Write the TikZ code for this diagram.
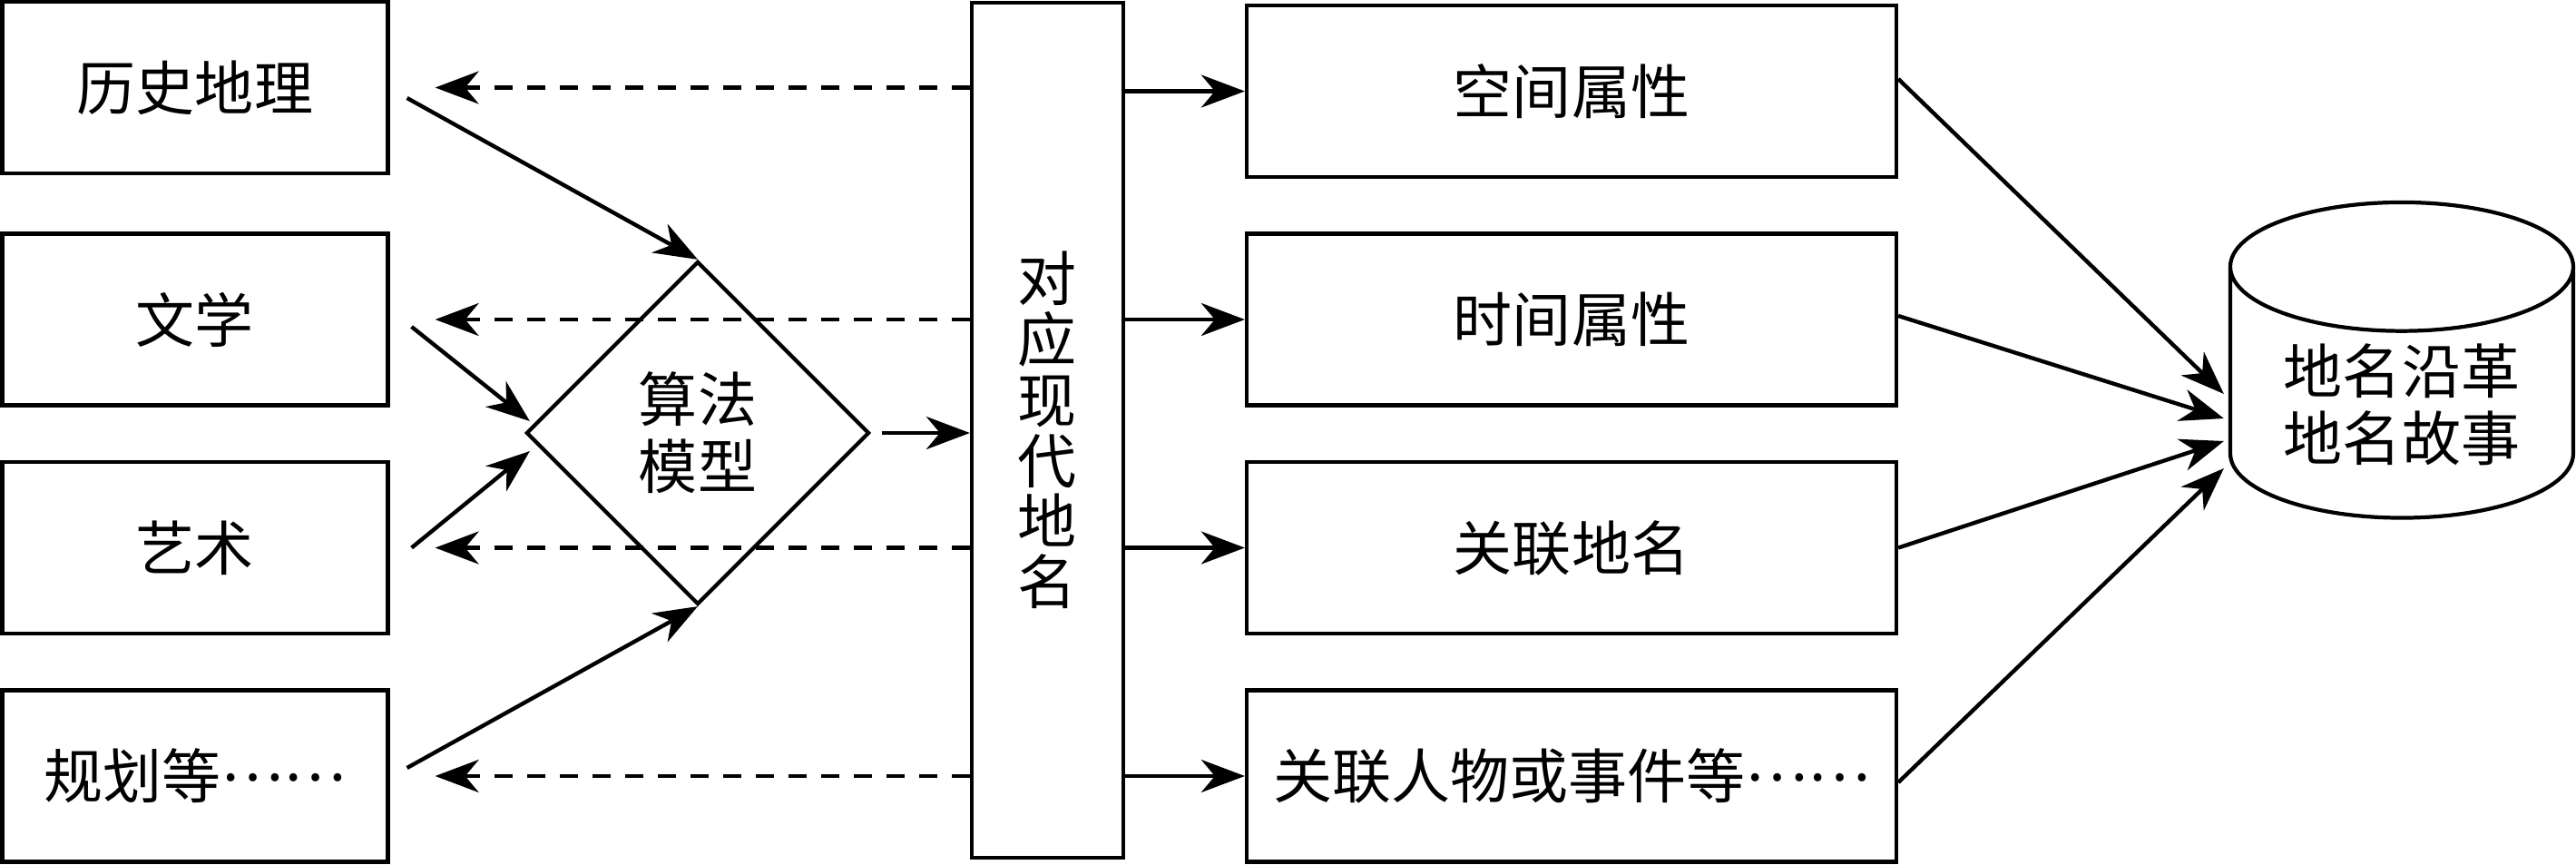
\documentclass[tikz,border=0pt]{standalone}
\usepackage{fontspec}
\setmainfont{Noto Sans CJK SC}
\usetikzlibrary{shapes.geometric,arrows.meta}

\tikzset{
  box/.style={draw=black,line width=1.2pt,rectangle,inner sep=0pt},
  arr/.style={-{Stealth[length=4.8mm,width=3.6mm,inset=1.5mm]},line width=1.25pt},
  back/.style={arr,dash pattern=on 2mm off 1.6mm},
}
\newcommand{\drawsource}[3]{% Parameters: name, depth, label
  \node[box,minimum width=4.25cm,minimum height=1.89cm] (#1) at (2.15,-#2) {#3};
}
\newcommand{\drawattr}[3]{% Parameters: name, depth, label
  \node[box,minimum width=7.16cm,minimum height=1.89cm] (#1) at (17.32,-#2) {#3};
}
\newcommand{\middots}{\raisebox{0.3em}{……}}

\begin{document}
\begin{tikzpicture}[font=\fontsize{18.5}{21}\selectfont]
  \useasboundingbox (0,0) rectangle (28.39,-9.52);
  \drawsource{hist}{0.965}{历史地理}
  \drawsource{lit}{3.52}{文学}
  \drawsource{art}{6.035}{艺术}
  \drawsource{plan}{8.55}{规划等\middots}
  \node[diamond,draw,line width=1.2pt,minimum width=3.78cm,minimum height=3.78cm,
    inner sep=0pt,align=center] (algo) at (7.69,-4.77) {算法\\模型};
  \node[box,minimum width=1.67cm,minimum height=9.42cm,align=center,
    font=\fontsize{18.5}{19}\selectfont] (modern) at (11.545,-4.74) {对\\应\\现\\代\\地\\名};
  \drawattr{spat}{1.005}{空间属性}
  \drawattr{time}{3.52}{时间属性}
  \drawattr{rel}{6.035}{关联地名}
  \drawattr{pers}{8.55}{关联人物或事件等\middots}
  \node[cylinder,shape border rotate=90,draw,line width=1.2pt,aspect=0.5,
    minimum width=3.78cm,minimum height=3.29cm,align=center] (db) at (26.47,-4.455) {地名沿革\\地名故事};
  % into the model
  \draw[arr] ([shift={(0.19,-0.115)}]hist.east) -- (algo.north);
  \draw[arr] ([shift={(0.24,-0.08)}]lit.east) -- ([shift={(0.06,0.13)}]algo.west);
  \draw[arr] ([xshift=2.4mm]art.east) -- ([shift={(0.06,-0.2)}]algo.west);
  \draw[arr] ([shift={(0.19,0.09)}]plan.east) -- (algo.south);
  \draw[arr,shorten <=1.2mm] (algo.east) -- (modern.west |- algo.east);
  % back to the sources
  \foreach \s in {hist,lit,art,plan}
    \draw[back,shorten >=5mm] (modern.west |- \s.east) -- (\s.east);
  % out to the attributes
  \foreach \a in {spat,time,rel,pers}
    \draw[arr] (modern.east |- \a.west) -- (\a.west);
  % into the database
  \draw[arr] ([yshift=1.35mm]spat.east) -- ([shift={(-0.05,0.115)}]db.west);
  \draw[arr] ([yshift=0.4mm]time.east) -- ([shift={(-0.05,-0.155)}]db.west);
  \draw[arr] (rel.east) -- ([shift={(-0.05,-0.405)}]db.west);
  \draw[arr] ([yshift=-0.7mm]pers.east) -- ([shift={(-0.05,-0.705)}]db.west);
\end{tikzpicture}
\end{document}
